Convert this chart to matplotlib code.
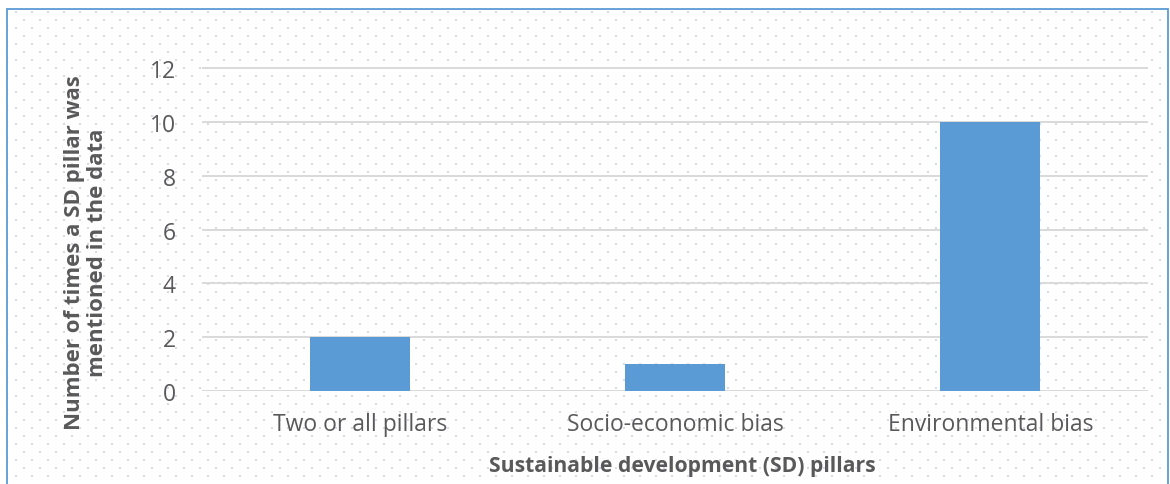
import matplotlib
matplotlib.use("Agg")
import matplotlib.pyplot as plt
import numpy as np

categories = ["Two or all pillars", "Socio-economic bias", "Environmental bias"]
counts = [2, 1, 10]
y_ticks = [0, 2, 4, 6, 8, 10, 12]

W, H = 1170, 485
plt.rcParams["font.family"] = ["Open Sans", "DejaVu Sans"]

fig = plt.figure(figsize=(W / 100, H / 100), dpi=100)

# Dotted background panel and frame, drawn in pixel coordinates
bg = fig.add_axes([0, 0, 1, 1], zorder=0)
bg.set_xlim(0, W)
bg.set_ylim(H, 0)
bg.axis("off")
xs, ys = [], []
for i, yy in enumerate(np.arange(13, H, 8)):
    off = 2 if i % 2 == 0 else 10
    for xx in np.arange(14 + off, W - 4, 16):
        xs.append(xx)
        ys.append(yy)
bg.scatter(xs, ys, s=1.0, marker="s", color="#d0dcec", linewidths=0)
bg.plot([7, 7, 1168, 1168], [H + 2, 9.5, 9.5, H + 2], color="#5b9bd5", lw=1.3,
        solid_joinstyle="miter")

ax = fig.add_axes([202 / W, 93 / H, 946 / W, 336 / H], zorder=1)
ax.patch.set_alpha(0)
x = np.arange(len(categories))
ax.bar(x, counts, width=0.317, color="#5b9bd5", zorder=3)
ax.set_xlim(-0.5, len(categories) - 0.5)
ax.set_ylim(0, 12.5)
ax.set_yticks(y_ticks)
ax.set_xticks(x)
ax.set_xticklabels(categories)
ax.yaxis.grid(True, color="#d9d9d9", lw=1.4, zorder=0)
ax.set_axisbelow(True)
for s in ax.spines.values():
    s.set_visible(False)
ax.tick_params(axis="y", length=0, pad=19, labelsize=16.5, labelcolor="#595959")
ax.tick_params(axis="x", length=0, pad=15, labelsize=16.5, labelcolor="#595959")

fig.text(86 / W, 1 - 253 / H, "Number of times a SD pillar was\nmentioned in the data",
         rotation=90, ha="center", va="center", fontsize=16, fontweight="bold",
         color="#595959", linespacing=1.1)
fig.text(682 / W, 1 - 467 / H, "Sustainable development (SD) pillars",
         ha="center", va="center", fontsize=15.2, fontweight="bold", color="#595959")

fig.savefig("out.png", dpi=100)
